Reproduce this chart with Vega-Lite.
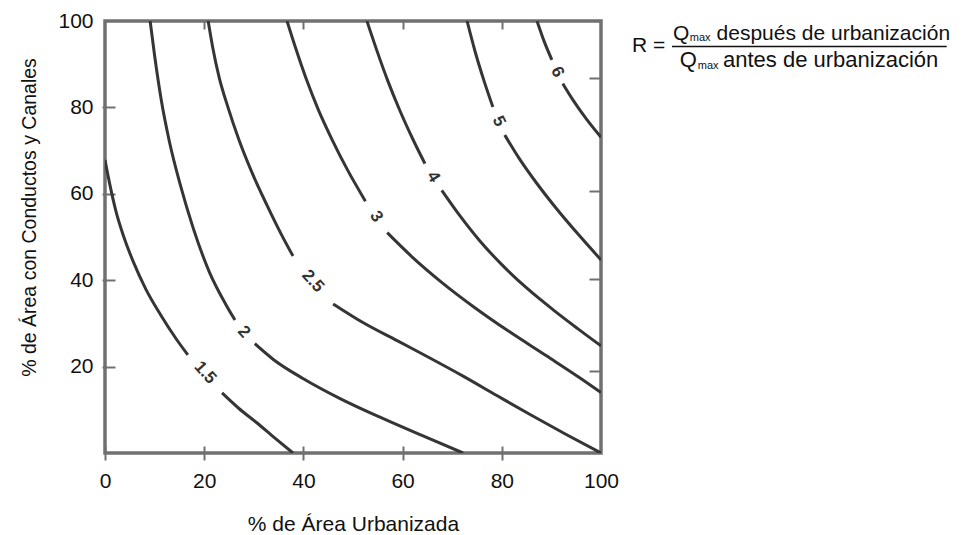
{
  "$schema": "https://vega.github.io/schema/vega-lite/v6.json",
  "width": 496,
  "height": 432,
  "autosize": {"type": "none"},
  "padding": {"left": 105, "top": 21, "right": 364, "bottom": 82},
  "background": "white",
  "config": {
    "view": {"stroke": "#707070", "strokeWidth": 3.5},
    "font": "Liberation Sans",
    "axis": {
      "grid": false,
      "domain": false,
      "labelFont": "Liberation Sans",
      "titleFont": "Liberation Sans",
      "labelColor": "#111111",
      "titleColor": "#111111",
      "labelFontSize": 21,
      "titleFontSize": 21,
      "titleFontWeight": "normal",
      "tickColor": "#707070",
      "tickWidth": 2,
      "labelOverlap": false
    }
  },
  "resolve": {"axis": {"x": "independent", "y": "independent"}},
  "datasets": {
    "curves": [
      {"R": "1.5", "seg": "a", "x": 0, "y": 67.8},
      {"R": "1.5", "seg": "a", "x": 1.0, "y": 62.0},
      {"R": "1.5", "seg": "a", "x": 2.2, "y": 56.0},
      {"R": "1.5", "seg": "a", "x": 3.8, "y": 50.0},
      {"R": "1.5", "seg": "a", "x": 5.8, "y": 44.0},
      {"R": "1.5", "seg": "a", "x": 8.2, "y": 38.0},
      {"R": "1.5", "seg": "a", "x": 11.2, "y": 32.0},
      {"R": "1.5", "seg": "a", "x": 14.3, "y": 26.5},
      {"R": "1.5", "seg": "a", "x": 16.7, "y": 22.7},
      {"R": "1.5", "seg": "b", "x": 23.6, "y": 13.9},
      {"R": "1.5", "seg": "b", "x": 27.0, "y": 10.3},
      {"R": "1.5", "seg": "b", "x": 30.6, "y": 7.0},
      {"R": "1.5", "seg": "b", "x": 34.2, "y": 3.5},
      {"R": "1.5", "seg": "b", "x": 37.9, "y": 0},
      {"R": "2", "seg": "a", "x": 9.1, "y": 100},
      {"R": "2", "seg": "a", "x": 10.0, "y": 92.0},
      {"R": "2", "seg": "a", "x": 11.3, "y": 82.0},
      {"R": "2", "seg": "a", "x": 13.0, "y": 72.0},
      {"R": "2", "seg": "a", "x": 15.2, "y": 62.0},
      {"R": "2", "seg": "a", "x": 17.8, "y": 52.0},
      {"R": "2", "seg": "a", "x": 21.0, "y": 42.0},
      {"R": "2", "seg": "a", "x": 24.3, "y": 34.5},
      {"R": "2", "seg": "a", "x": 26.2, "y": 30.8},
      {"R": "2", "seg": "b", "x": 30.2, "y": 25.3},
      {"R": "2", "seg": "b", "x": 34.0, "y": 21.6},
      {"R": "2", "seg": "b", "x": 40.0, "y": 17.2},
      {"R": "2", "seg": "b", "x": 47.4, "y": 12.6},
      {"R": "2", "seg": "b", "x": 56.0, "y": 8.0},
      {"R": "2", "seg": "b", "x": 64.0, "y": 4.0},
      {"R": "2", "seg": "b", "x": 72.2, "y": 0},
      {"R": "2.5", "seg": "a", "x": 20.8, "y": 100},
      {"R": "2.5", "seg": "a", "x": 21.7, "y": 94.0},
      {"R": "2.5", "seg": "a", "x": 23.0, "y": 87.0},
      {"R": "2.5", "seg": "a", "x": 24.8, "y": 80.0},
      {"R": "2.5", "seg": "a", "x": 27.0, "y": 72.5},
      {"R": "2.5", "seg": "a", "x": 29.6, "y": 65.0},
      {"R": "2.5", "seg": "a", "x": 32.6, "y": 57.5},
      {"R": "2.5", "seg": "a", "x": 35.6, "y": 50.5},
      {"R": "2.5", "seg": "a", "x": 37.9, "y": 45.6},
      {"R": "2.5", "seg": "b", "x": 46.0, "y": 34.5},
      {"R": "2.5", "seg": "b", "x": 52.0, "y": 30.2},
      {"R": "2.5", "seg": "b", "x": 58.9, "y": 26.0},
      {"R": "2.5", "seg": "b", "x": 65.5, "y": 22.0},
      {"R": "2.5", "seg": "b", "x": 72.2, "y": 17.8},
      {"R": "2.5", "seg": "b", "x": 79.0, "y": 13.3},
      {"R": "2.5", "seg": "b", "x": 85.7, "y": 8.9},
      {"R": "2.5", "seg": "b", "x": 92.8, "y": 4.4},
      {"R": "2.5", "seg": "b", "x": 100, "y": 0},
      {"R": "3", "seg": "a", "x": 36.7, "y": 100},
      {"R": "3", "seg": "a", "x": 38.5, "y": 93.5},
      {"R": "3", "seg": "a", "x": 40.6, "y": 86.5},
      {"R": "3", "seg": "a", "x": 43.0, "y": 79.5},
      {"R": "3", "seg": "a", "x": 45.8, "y": 72.5},
      {"R": "3", "seg": "a", "x": 49.0, "y": 65.3},
      {"R": "3", "seg": "a", "x": 52.5, "y": 58.3},
      {"R": "3", "seg": "b", "x": 56.9, "y": 51.0},
      {"R": "3", "seg": "b", "x": 62.0, "y": 45.3},
      {"R": "3", "seg": "b", "x": 68.0, "y": 39.4},
      {"R": "3", "seg": "b", "x": 74.5, "y": 33.7},
      {"R": "3", "seg": "b", "x": 81.5, "y": 28.1},
      {"R": "3", "seg": "b", "x": 89.0, "y": 22.5},
      {"R": "3", "seg": "b", "x": 96.0, "y": 17.2},
      {"R": "3", "seg": "b", "x": 100, "y": 14.0},
      {"R": "4", "seg": "a", "x": 52.8, "y": 100},
      {"R": "4", "seg": "a", "x": 54.8, "y": 93.2},
      {"R": "4", "seg": "a", "x": 57.0, "y": 86.2},
      {"R": "4", "seg": "a", "x": 59.4, "y": 79.4},
      {"R": "4", "seg": "a", "x": 62.0, "y": 72.8},
      {"R": "4", "seg": "a", "x": 64.5, "y": 67.0},
      {"R": "4", "seg": "b", "x": 67.9, "y": 60.8},
      {"R": "4", "seg": "b", "x": 71.5, "y": 55.0},
      {"R": "4", "seg": "b", "x": 75.5, "y": 49.2},
      {"R": "4", "seg": "b", "x": 80.0, "y": 43.6},
      {"R": "4", "seg": "b", "x": 85.0, "y": 38.2},
      {"R": "4", "seg": "b", "x": 90.3, "y": 33.2},
      {"R": "4", "seg": "b", "x": 95.3, "y": 28.8},
      {"R": "4", "seg": "b", "x": 100, "y": 24.8},
      {"R": "5", "seg": "a", "x": 73.0, "y": 100},
      {"R": "5", "seg": "a", "x": 74.6, "y": 93.0},
      {"R": "5", "seg": "a", "x": 76.4, "y": 86.2},
      {"R": "5", "seg": "a", "x": 78.2, "y": 80.1},
      {"R": "5", "seg": "b", "x": 80.6, "y": 73.6},
      {"R": "5", "seg": "b", "x": 83.5, "y": 68.2},
      {"R": "5", "seg": "b", "x": 87.0, "y": 62.5},
      {"R": "5", "seg": "b", "x": 91.0, "y": 56.6},
      {"R": "5", "seg": "b", "x": 95.5, "y": 50.5},
      {"R": "5", "seg": "b", "x": 100, "y": 44.7},
      {"R": "6", "seg": "a", "x": 87.1, "y": 100},
      {"R": "6", "seg": "a", "x": 88.5, "y": 95.4},
      {"R": "6", "seg": "a", "x": 90.1, "y": 91.0},
      {"R": "6", "seg": "b", "x": 92.3, "y": 85.5},
      {"R": "6", "seg": "b", "x": 94.3, "y": 81.8},
      {"R": "6", "seg": "b", "x": 97.0, "y": 77.4},
      {"R": "6", "seg": "b", "x": 100, "y": 73.1}
    ],
    "labels": [
      {"R": "1.5", "x": 20.2, "y": 18.6},
      {"R": "2", "x": 28.0, "y": 28.0},
      {"R": "2.5", "x": 41.9, "y": 39.8},
      {"R": "3", "x": 54.7, "y": 54.7},
      {"R": "4", "x": 66.2, "y": 63.9},
      {"R": "5", "x": 79.4, "y": 76.8},
      {"R": "6", "x": 91.2, "y": 88.2}
    ],
    "formula": [
      {"t": "R =", "x": 106.25, "y": 92.8, "role": "num"},
      {"t": "Q", "x": 114.5, "y": 95.6, "role": "num"},
      {"t": "max", "x": 117.9, "y": 95.3, "role": "sub"},
      {"t": "después de urbanización", "x": 123.3, "y": 95.6, "role": "num"},
      {"t": "Q", "x": 115.9, "y": 89.3, "role": "den"},
      {"t": "max", "x": 119.5, "y": 89.0, "role": "sub"},
      {"t": "antes de urbanización", "x": 124.6, "y": 89.3, "role": "den"}
    ],
    "fraction": [
      {"x": 114.3, "x2": 169.7, "y": 94.1}
    ]
  },
  "layer": [
    {
      "data": {"name": "curves"},
      "mark": {"type": "line", "color": "#353535", "strokeWidth": 3, "interpolate": "monotone", "clip": true},
      "encoding": {
        "x": {
          "field": "x", "type": "quantitative",
          "scale": {"domain": [0, 100], "nice": false, "zero": false},
          "axis": {"orient": "bottom", "values": [0, 20, 40, 60, 80, 100], "ticks": false, "labelPadding": 34, "labelBaseline": "alphabetic", "labelFlush": false, "title": "% de Área Urbanizada", "titleY": 77, "titleBaseline": "alphabetic"}
        },
        "y": {
          "field": "y", "type": "quantitative",
          "scale": {"domain": [0, 100], "nice": false, "zero": false},
          "axis": {"orient": "left", "values": [20, 40, 60, 80, 100], "ticks": false, "labelPadding": 12, "title": "% de Área con Conductos y Canales", "titleFontSize": 19.5, "titleX": -70, "titleY": 196, "titleBaseline": "alphabetic", "titleAngle": -90}
        },
        "detail": [{"field": "R"}, {"field": "seg"}]
      }
    },
    {
      "data": {"name": "curves"},
      "mark": {"type": "point", "opacity": 0},
      "encoding": {
        "x": {"field": "x", "type": "quantitative", "axis": {"orient": "top", "values": [20, 40, 60, 80], "labels": false, "title": null, "offset": -8, "tickSize": 8}},
        "y": {"field": "y", "type": "quantitative", "axis": {"orient": "right", "values": [19, 40.3, 60.6, 86.8], "labels": false, "title": null, "offset": -12, "tickSize": 12}}
      }
    },
    {
      "data": {"name": "curves"},
      "mark": {"type": "point", "opacity": 0},
      "encoding": {
        "x": {"field": "x", "type": "quantitative", "axis": {"orient": "bottom", "values": [0, 20, 40, 60, 80], "labels": false, "title": null, "offset": -7, "tickSize": 14}},
        "y": {"field": "y", "type": "quantitative", "axis": {"orient": "left", "values": [20, 40, 60, 80], "labels": false, "title": null, "offset": -10, "tickSize": 13}}
      }
    },
    {
      "data": {"name": "labels"},
      "transform": [{"filter": {"field": "R", "oneOf": ["1.5", "2", "2.5"]}}],
      "mark": {"type": "text", "angle": 48, "fontSize": 17, "fontWeight": "bold", "color": "#333333", "align": "center", "baseline": "middle"},
      "encoding": {
        "x": {"field": "x", "type": "quantitative", "axis": null},
        "y": {"field": "y", "type": "quantitative", "axis": null},
        "text": {"field": "R"}
      }
    },
    {
      "data": {"name": "labels"},
      "transform": [{"filter": {"field": "R", "oneOf": ["3", "4"]}}],
      "mark": {"type": "text", "angle": 58, "fontSize": 17, "fontWeight": "bold", "color": "#333333", "align": "center", "baseline": "middle"},
      "encoding": {
        "x": {"field": "x", "type": "quantitative", "axis": null},
        "y": {"field": "y", "type": "quantitative", "axis": null},
        "text": {"field": "R"}
      }
    },
    {
      "data": {"name": "labels"},
      "transform": [{"filter": {"field": "R", "oneOf": ["5", "6"]}}],
      "mark": {"type": "text", "angle": 64, "fontSize": 17, "fontWeight": "bold", "color": "#333333", "align": "center", "baseline": "middle"},
      "encoding": {
        "x": {"field": "x", "type": "quantitative", "axis": null},
        "y": {"field": "y", "type": "quantitative", "axis": null},
        "text": {"field": "R"}
      }
    },
    {
      "data": {"name": "formula"},
      "transform": [{"filter": {"field": "role", "equal": "num"}}],
      "mark": {"type": "text", "fontSize": 21, "color": "#111111", "align": "left", "baseline": "alphabetic"},
      "encoding": {
        "x": {"field": "x", "type": "quantitative", "axis": null},
        "y": {"field": "y", "type": "quantitative", "axis": null},
        "text": {"field": "t"}
      }
    },
    {
      "data": {"name": "formula"},
      "transform": [{"filter": {"field": "role", "equal": "den"}}],
      "mark": {"type": "text", "fontSize": 22, "color": "#111111", "align": "left", "baseline": "alphabetic"},
      "encoding": {
        "x": {"field": "x", "type": "quantitative", "axis": null},
        "y": {"field": "y", "type": "quantitative", "axis": null},
        "text": {"field": "t"}
      }
    },
    {
      "data": {"name": "formula"},
      "transform": [{"filter": {"field": "role", "equal": "sub"}}],
      "mark": {"type": "text", "fontSize": 11, "color": "#111111", "align": "left", "baseline": "alphabetic"},
      "encoding": {
        "x": {"field": "x", "type": "quantitative", "axis": null},
        "y": {"field": "y", "type": "quantitative", "axis": null},
        "text": {"field": "t"}
      }
    },
    {
      "data": {"name": "fraction"},
      "mark": {"type": "rule", "color": "#111111", "strokeWidth": 1.5},
      "encoding": {
        "x": {"field": "x", "type": "quantitative", "axis": null},
        "x2": {"field": "x2"},
        "y": {"field": "y", "type": "quantitative", "axis": null}
      }
    }
  ]
}
